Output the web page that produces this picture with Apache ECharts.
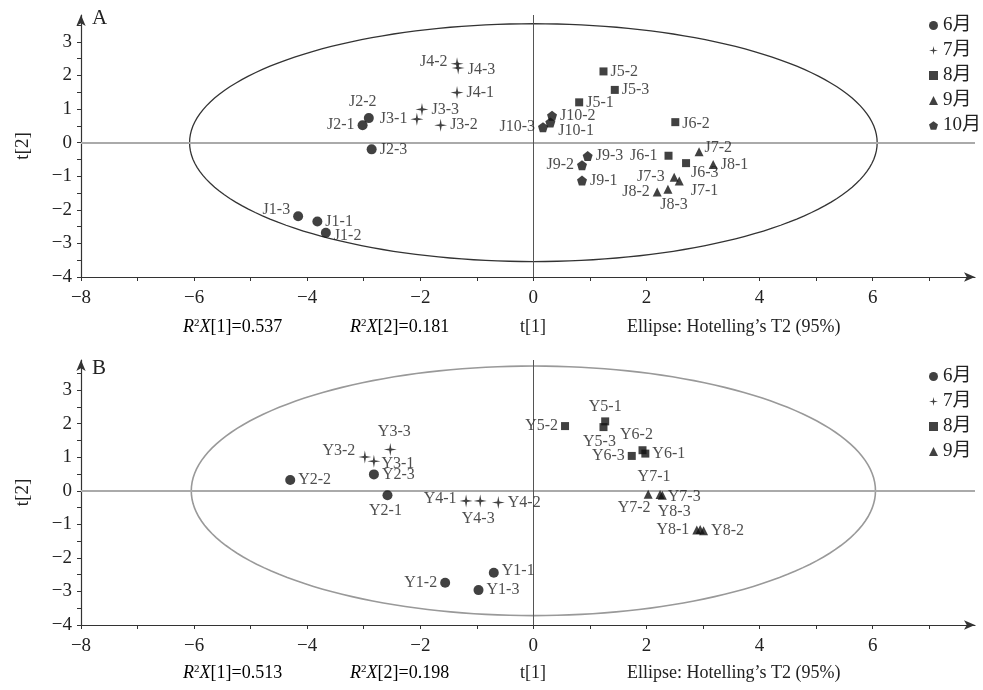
<!DOCTYPE html>
<html><head><meta charset="utf-8">
<script src="https://cdn.jsdelivr.net/npm/echarts@6/dist/echarts.min.js"></script>
<style>html,body{margin:0;padding:0;background:#fff}#c{width:983px;height:690px}</style>
</head><body><div id="c"></div>
<script>
// ---------- data ----------
const monthNames = ['6月','7月','8月','9月','10月'];
// Panel A (J samples): [t1, t2, label]
const A_jun = [[-4.16,-2.19,'J1-3'],[-3.82,-2.35,'J1-1'],[-3.67,-2.68,'J1-2'],[-3.02,0.52,'J2-1'],[-2.91,0.73,'J2-2'],[-2.86,-0.20,'J2-3']];
const A_jul = [[-2.06,0.70,'J3-1'],[-1.97,0.99,'J3-3'],[-1.64,0.52,'J3-2'],[-1.35,2.35,'J4-2'],[-1.33,2.22,'J4-3'],[-1.35,1.49,'J4-1']];
const A_aug = [[1.24,2.12,'J5-2'],[1.44,1.57,'J5-3'],[0.81,1.20,'J5-1'],[2.51,0.61,'J6-2'],[2.39,-0.39,'J6-1'],[2.70,-0.61,'J6-3']];
const A_sep = [[2.93,-0.27,'J7-2'],[3.18,-0.65,'J8-1'],[2.49,-1.03,'J7-3'],[2.58,-1.14,'J7-1'],[2.38,-1.39,'J8-3'],[2.19,-1.47,'J8-2']];
const A_oct = [[0.33,0.80,'J10-2'],[0.30,0.60,'J10-1'],[0.17,0.46,'J10-3'],[0.96,-0.40,'J9-3'],[0.86,-0.67,'J9-2'],[0.86,-1.13,'J9-1']];
// Panel B (Y samples)
const B_jun = [[-4.30,0.32,'Y2-2'],[-2.82,0.49,'Y2-3'],[-2.58,-0.13,'Y2-1'],[-0.70,-2.44,'Y1-1'],[-1.56,-2.74,'Y1-2'],[-0.97,-2.96,'Y1-3']];
const B_jul = [[-2.98,1.01,'Y3-2'],[-2.82,0.88,'Y3-1'],[-2.53,1.23,'Y3-3'],[-1.19,-0.30,'Y4-1'],[-0.94,-0.30,'Y4-3'],[-0.62,-0.35,'Y4-2']];
const B_aug = [[0.56,1.93,'Y5-2'],[1.27,2.07,'Y5-1'],[1.24,1.90,'Y5-3'],[1.93,1.21,'Y6-2'],[1.98,1.11,'Y6-1'],[1.74,1.04,'Y6-3']];
const B_sep = [[2.03,-0.10,'Y7-2'],[2.24,-0.11,'Y7-1'],[2.28,-0.13,'Y7-3'],[2.89,-1.17,'Y8-1'],[2.95,-1.15,'Y8-3'],[3.01,-1.19,'Y8-2']];
// Hotelling T2 ellipse semi-axes [t1, t2]
const ellipseA = [6.08, 3.54];
const ellipseB = [6.05, 3.72];
// axis ticks
const xTickLabels = [-8,-6,-4,-2,0,2,4,6];
const xTickMarks = [-8,-7,-6,-5,-4,-3,-2,-1,0,1,2,3,4,5,6,7];
const yTickLabels = [-4,-3,-2,-1,0,1,2,3];
const yTickMarks = [-4,-3.5,-3,-2.5,-2,-1.5,-1,-0.5,0,0.5,1,1.5,2,2.5,3,3.5];
const statsA = ['0.537','0.181'];
const statsB = ['0.513','0.198'];

// ---------- styles ----------
const SERIF = '"Liberation Serif","Times New Roman","DejaVu Serif","Noto Sans CJK SC",serif';
const labelPos = {
 'J1-3':['left',[0,-6]],'J1-1':['right',[0,0]],'J1-2':['right',[0,3]],'J2-1':['left',[0,0]],'J2-2':['top',[-6,0]],'J2-3':['right',[0,0]],
 'J3-1':['left',[0,0]],'J3-3':['right',[0,0]],'J3-2':['right',[0,0]],'J4-2':['left',[0,-2]],'J4-3':['right',[0,2]],'J4-1':['right',[0,0]],
 'J5-2':['right',[0,0]],'J5-3':['right',[0,0]],'J5-1':['right',[0,0]],'J6-2':['right',[0,2]],'J6-1':['left',[-4,0]],'J6-3':['right',[-2,10]],
 'J7-2':['right',[-2,-4]],'J8-1':['right',[0,0]],'J7-3':['left',[-2,0]],'J7-1':['right',[4,10]],'J8-3':['bottom',[6,0]],'J8-2':['left',[0,0]],
 'J10-2':['right',[0,0]],'J10-1':['right',[0,8]],'J10-3':['left',[0,0]],'J9-3':['right',[0,0]],'J9-2':['left',[0,0]],'J9-1':['right',[0,0]],
 'Y2-2':['right',[0,0]],'Y2-3':['right',[0,0]],'Y2-1':['bottom',[-2,0]],'Y1-1':['right',[0,-2]],'Y1-2':['left',[0,0]],'Y1-3':['right',[0,0]],
 'Y3-2':['left',[0,-6]],'Y3-1':['right',[-2,2]],'Y3-3':['top',[4,0]],'Y4-1':['left',[0,-2]],'Y4-3':['bottom',[-2,0]],'Y4-2':['right',[0,0]],
 'Y5-2':['left',[0,0]],'Y5-1':['top',[0,0]],'Y5-3':['bottom',[-4,0]],'Y6-2':['top',[-6,0]],'Y6-1':['right',[0,0]],'Y6-3':['left',[0,0]],
 'Y7-2':['bottom',[-14,-2]],'Y7-1':['top',[-6,-2]],'Y7-3':['right',[-2,2]],'Y8-1':['left',[0,0]],'Y8-3':['top',[-26,-2]],'Y8-2':['right',[0,0]]
};
const symbols = {
 '6月':'circle',
 '7月':'path://M0,-10 L1.6,-1.6 L10,0 L1.6,1.6 L0,10 L-1.6,1.6 L-10,0 L-1.6,-1.6 Z',
 '8月':'rect',
 '9月':'triangle',
 '10月':'path://M0,-10 L9.5,-3.1 L5.9,8.1 L-5.9,8.1 L-9.5,-3.1 Z'
};
const sizes = {'6月':10,'7月':13,'8月':8,'9月':9,'10月':10};

function fmtNum(v){ return v < 0 ? '\u2212' + Math.abs(v) : String(v); }

function scatter(name, arr, gi){
  return {
    type:'scatter', name, xAxisIndex:gi, yAxisIndex:gi,
    symbol: symbols[name], symbolSize: sizes[name],
    itemStyle:{color:'#111'}, z:5,
    label:{show:true, formatter:'{b}', fontFamily:SERIF, fontSize:16, color:'#222', distance:3},
    emphasis:{disabled:true},
    data: arr.map(d => {
      const lp = labelPos[d[2]] || ['right',[0,0]];
      return {value:[d[0],d[1]], name:d[2], label:{position:lp[0], offset:lp[1]}};
    })
  };
}

function ellipse(gi, ab, color, lw){
  return {
    type:'custom', xAxisIndex:gi, yAxisIndex:gi, silent:true, z:2,
    data:[[0,0]],
    renderItem:function(params, api){
      const pts = [];
      for (let i=0;i<=180;i++){
        const t = i/180*Math.PI*2;
        pts.push(api.coord([ab[0]*Math.cos(t), ab[1]*Math.sin(t)]));
      }
      return {type:'polygon', shape:{points:pts}, style:{fill:'none', stroke:color, lineWidth:lw}};
    },
    markLine:{
      silent:true, symbol:'none', label:{show:false}, animation:false,
      data:[
        {yAxis:0, lineStyle:{color:'#aaa', width:2, type:'solid'}},
        {xAxis:0, lineStyle:{color:'#555', width:1, type:'solid'}}
      ]
    }
  };
}

function xAxis(gi){
  return {
    type:'value', gridIndex:gi, min:-8, max:7.81,
    axisLine:{show:true, onZero:false, symbol:['none','arrow'], symbolSize:[7,11], lineStyle:{color:'#333', width:1.2}},
    axisTick:{show:true, customValues:xTickMarks, length:4, lineStyle:{color:'#333'}},
    axisLabel:{customValues:xTickLabels, formatter:fmtNum, fontFamily:SERIF, fontSize:19, color:'#222', margin:12},
    splitLine:{show:false}
  };
}
function yAxis(gi, max){
  return {
    type:'value', gridIndex:gi, min:-4, max:max,
    name:'t[2]', nameLocation:'middle', nameRotate:90, nameGap:48,
    nameTextStyle:{fontFamily:SERIF, fontSize:19, color:'#222'},
    axisLine:{show:true, onZero:false, symbol:['none','arrow'], symbolSize:[7,11], lineStyle:{color:'#333', width:1.2}},
    axisTick:{show:true, customValues:yTickMarks, length:4, lineStyle:{color:'#333'}},
    axisLabel:{customValues:yTickLabels, formatter:fmtNum, fontFamily:SERIF, fontSize:19, color:'#222', margin:9},
    splitLine:{show:false}
  };
}

function statText(y, stats){
  const rich = {
    i:{fontFamily:SERIF, fontSize:18, fontStyle:'italic', color:'#222'},
    s:{fontFamily:SERIF, fontSize:11, color:'#222', verticalAlign:'top', padding:[0,0,8,0]},
    n:{fontFamily:SERIF, fontSize:18, color:'#222'}
  };
  return [
    {type:'text', left:183, top:y, style:{text:'{i|R}{s|2}{i|X}{n|[1]=' + stats[0] + '}', rich:rich}},
    {type:'text', left:350, top:y, style:{text:'{i|R}{s|2}{i|X}{n|[2]=' + stats[1] + '}', rich:rich}},
    {type:'text', left:520, top:y, style:{text:'t[1]', font:'18px ' + SERIF, fill:'#222'}},
    {type:'text', left:627, top:y, style:{text:'Ellipse: Hotelling\u2019s T2 (95%)', font:'18px ' + SERIF, fill:'#222'}}
  ];
}

const legendBase = {
  orient:'vertical', left:924, itemWidth:9, itemHeight:9, itemGap:6,
  textStyle:{fontFamily:SERIF, fontSize:19, color:'#222'}, itemStyle:{color:'#111'},
  selectedMode:false
};

const chart = echarts.init(document.getElementById('c'), null, {renderer:'canvas'});
chart.setOption({
  backgroundColor:'#fff',
  animation:false,
  grid:[
    {left:81, right:8, top:15, height:262},
    {left:81, right:8, top:360, height:265}
  ],
  xAxis:[xAxis(0), xAxis(1)],
  yAxis:[yAxis(0,3.8), yAxis(1,3.9)],
  legend:[
    Object.assign({}, legendBase, {top:11, data:monthNames}),
    Object.assign({}, legendBase, {top:362, data:monthNames.slice(0,4)})
  ],
  graphic:[
    {type:'text', left:92, top:8, style:{text:'A', font:'21px ' + SERIF, fill:'#222'}},
    {type:'text', left:92, top:358, style:{text:'B', font:'21px ' + SERIF, fill:'#222'}}
  ].concat(statText(318, statsA)).concat(statText(664, statsB)),
  series:[
    ellipse(0, ellipseA, '#333', 1.3),
    ellipse(1, ellipseB, '#999', 1.6),
    scatter('6月', A_jun, 0), scatter('7月', A_jul, 0), scatter('8月', A_aug, 0), scatter('9月', A_sep, 0), scatter('10月', A_oct, 0),
    scatter('6月', B_jun, 1), scatter('7月', B_jul, 1), scatter('8月', B_aug, 1), scatter('9月', B_sep, 1)
  ]
});
</script></body></html>
